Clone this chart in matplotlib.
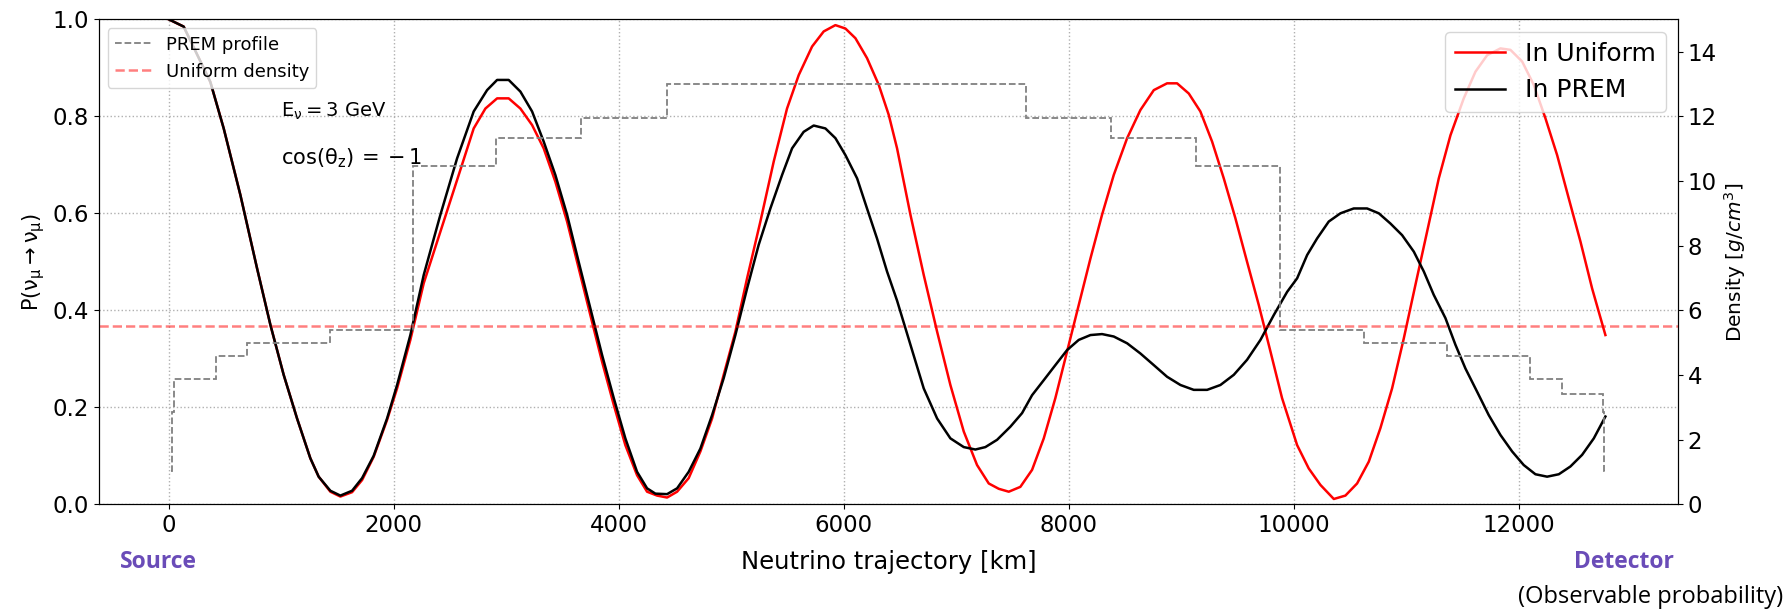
import matplotlib
matplotlib.use("Agg")
import matplotlib.pyplot as plt
import numpy as np

# probability along the path (km, P)
uni_km = [0, 133, 370, 489, 637, 785, 904, 1022, 1141, 1259, 1333, 1437, 1526, 1630, 1719,
          1822, 1941, 2030, 2148, 2267, 2444, 2607, 2711, 2815, 2919, 3022, 3126, 3230, 3333,
          3437, 3541, 3644, 3748, 3852, 3956, 4059, 4163, 4252, 4341, 4430, 4519, 4622, 4726,
          4830, 4933, 5037, 5141, 5259, 5378, 5496, 5600, 5719, 5822, 5926, 6015, 6104, 6207,
          6311, 6400, 6474, 6593, 6711, 6830, 6948, 7067, 7185, 7289, 7378, 7467, 7570, 7674,
          7778, 7881, 7985, 8089, 8193, 8296, 8400, 8519, 8637, 8756, 8874, 8963, 9067, 9170,
          9274, 9378, 9481, 9585, 9689, 9793, 9896, 10030, 10133, 10237, 10356, 10459, 10563,
          10667, 10770, 10874, 10978, 11081, 11185, 11289, 11393, 11511, 11615, 11719, 11837,
          11926, 12030, 12133, 12237, 12341, 12444, 12548, 12652, 12770]
uni_p = [1.0, 0.985, 0.871, 0.775, 0.638, 0.487, 0.370, 0.267, 0.177, 0.095, 0.057, 0.026,
         0.016, 0.025, 0.050, 0.098, 0.174, 0.239, 0.339, 0.456, 0.583, 0.700, 0.775, 0.816,
         0.837, 0.837, 0.816, 0.782, 0.734, 0.665, 0.583, 0.487, 0.390, 0.294, 0.205, 0.122,
         0.060, 0.026, 0.018, 0.014, 0.026, 0.054, 0.109, 0.177, 0.267, 0.356, 0.466, 0.583,
         0.707, 0.816, 0.885, 0.944, 0.975, 0.988, 0.981, 0.961, 0.920, 0.865, 0.803, 0.734,
         0.597, 0.473, 0.356, 0.246, 0.150, 0.081, 0.043, 0.032, 0.026, 0.036, 0.071, 0.136,
         0.219, 0.315, 0.411, 0.507, 0.597, 0.679, 0.755, 0.813, 0.854, 0.868, 0.868, 0.847,
         0.810, 0.748, 0.672, 0.590, 0.500, 0.411, 0.315, 0.219, 0.122, 0.074, 0.040, 0.011,
         0.018, 0.043, 0.088, 0.157, 0.239, 0.342, 0.452, 0.562, 0.672, 0.761, 0.837, 0.892,
         0.926, 0.940, 0.937, 0.913, 0.865, 0.796, 0.720, 0.631, 0.542, 0.445, 0.349]

prem_km = [0, 133, 370, 489, 637, 785, 904, 1022, 1141, 1259, 1333, 1437, 1526, 1630, 1719,
           1822, 1941, 2030, 2148, 2267, 2415, 2563, 2711, 2830, 2919, 3022, 3126, 3230, 3333,
           3437, 3541, 3644, 3748, 3852, 3956, 4059, 4163, 4252, 4326, 4430, 4519, 4622, 4726,
           4830, 4933, 5037, 5141, 5244, 5348, 5452, 5541, 5644, 5733, 5837, 5926, 6015, 6119,
           6207, 6296, 6385, 6474, 6593, 6711, 6830, 6948, 7067, 7170, 7259, 7363, 7481, 7585,
           7674, 7778, 7881, 7985, 8089, 8193, 8296, 8400, 8519, 8637, 8756, 8874, 8993, 9111,
           9230, 9348, 9467, 9585, 9704, 9822, 9941, 10030, 10119, 10207, 10311, 10415, 10533,
           10652, 10756, 10859, 10963, 11067, 11156, 11244, 11348, 11437, 11526, 11630, 11733,
           11837, 11941, 12044, 12148, 12252, 12356, 12459, 12563, 12667, 12770]
prem_p = [1.0, 0.985, 0.871, 0.775, 0.638, 0.487, 0.370, 0.267, 0.177, 0.095, 0.057, 0.028,
          0.018, 0.028, 0.054, 0.100, 0.177, 0.246, 0.349, 0.473, 0.597, 0.713, 0.810, 0.854,
          0.875, 0.875, 0.851, 0.810, 0.748, 0.679, 0.597, 0.500, 0.404, 0.308, 0.219, 0.136,
          0.067, 0.033, 0.022, 0.021, 0.033, 0.067, 0.115, 0.184, 0.260, 0.349, 0.445, 0.535,
          0.610, 0.679, 0.734, 0.768, 0.781, 0.775, 0.755, 0.720, 0.672, 0.610, 0.548, 0.480,
          0.420, 0.329, 0.239, 0.177, 0.136, 0.118, 0.113, 0.118, 0.133, 0.160, 0.188, 0.225,
          0.256, 0.287, 0.318, 0.339, 0.349, 0.351, 0.346, 0.332, 0.311, 0.287, 0.263, 0.246,
          0.236, 0.236, 0.246, 0.267, 0.298, 0.339, 0.390, 0.438, 0.466, 0.514, 0.548, 0.583,
          0.600, 0.610, 0.610, 0.600, 0.579, 0.555, 0.521, 0.480, 0.432, 0.384, 0.329, 0.280,
          0.232, 0.184, 0.143, 0.109, 0.081, 0.062, 0.057, 0.062, 0.078, 0.102, 0.136, 0.181]

# PREM density layers crossed by the path (edges in km, density in g/cm^3)
layer_edges = [22, 25, 45, 420, 696, 1437, 2172, 2910, 3665, 4430, 7624, 8373, 9133, 9881,
               10622, 11363, 12104, 12381, 12750, 12758, 12770]
layer_rho = [1.02, 2.86, 3.88, 4.60, 4.98, 5.39, 10.46, 11.33, 11.95, 13.0, 11.95, 11.33,
             10.46, 5.39, 4.98, 4.60, 3.88, 3.40, 2.86, 1.02]
rho_uniform = 5.52

fig = plt.figure(figsize=(17.85, 6.11), dpi=100)
ax = fig.add_axes([0.0553, 0.1746, 0.8848, 0.7938])
ax2 = ax.twinx()

l_uni, = ax.plot(uni_km, uni_p, color='red', lw=1.8, label='In Uniform')
l_prem, = ax.plot(prem_km, prem_p, color='black', lw=1.8, label='In PREM')

ax2.stairs(layer_rho, layer_edges, baseline=None, color='gray', ls='--', lw=1.3,
           label='PREM profile')
ax2.axhline(rho_uniform, color='red', alpha=0.5, ls='--', lw=1.8, label='Uniform density')

ax.set_xlim(-622, 13416)
ax.set_ylim(0, 1)
ax2.set_ylim(0, 15)
ax.grid(True, ls=':', color='#b0b0b0', lw=1)

ax.set_xlabel('Neutrino trajectory [km]', fontsize=17.5, labelpad=9)
ax.set_ylabel(r'$\mathregular{P(\nu_\mu \rightarrow \nu_\mu)}$', fontsize=15)
ax2.set_ylabel(r'Density [$g/cm^3$]', fontsize=14.5)
ax.tick_params(labelsize=16.5)
ax2.tick_params(labelsize=16.5)

ax.text(1000, 0.80, r'$\mathregular{E_\nu = 3}$ GeV', fontsize=14)
ax.text(1000, 0.70, r'$\mathregular{\cos(\theta_z)\,=\:-\,1}$', fontsize=15)

leg1 = ax2.legend(loc='upper left', fontsize=13)
ax2.add_artist(leg1)
ax2.legend(handles=[l_uni, l_prem], loc='upper right', fontsize=18)

fig.text(0.089, 0.080, 'Source', color='#6a4cb8', fontsize=16.5, fontweight='bold',
         family='Open Sans', ha='center', va='center')
fig.text(0.910, 0.080, 'Detector', color='#6a4cb8', fontsize=16.5, fontweight='bold',
         family='Open Sans', ha='center', va='center')
fig.text(0.999, 0.023, '(Observable probability)', color='black', fontsize=17,
         family='Open Sans', ha='right', va='center')

fig.savefig('out.png', dpi=100)
